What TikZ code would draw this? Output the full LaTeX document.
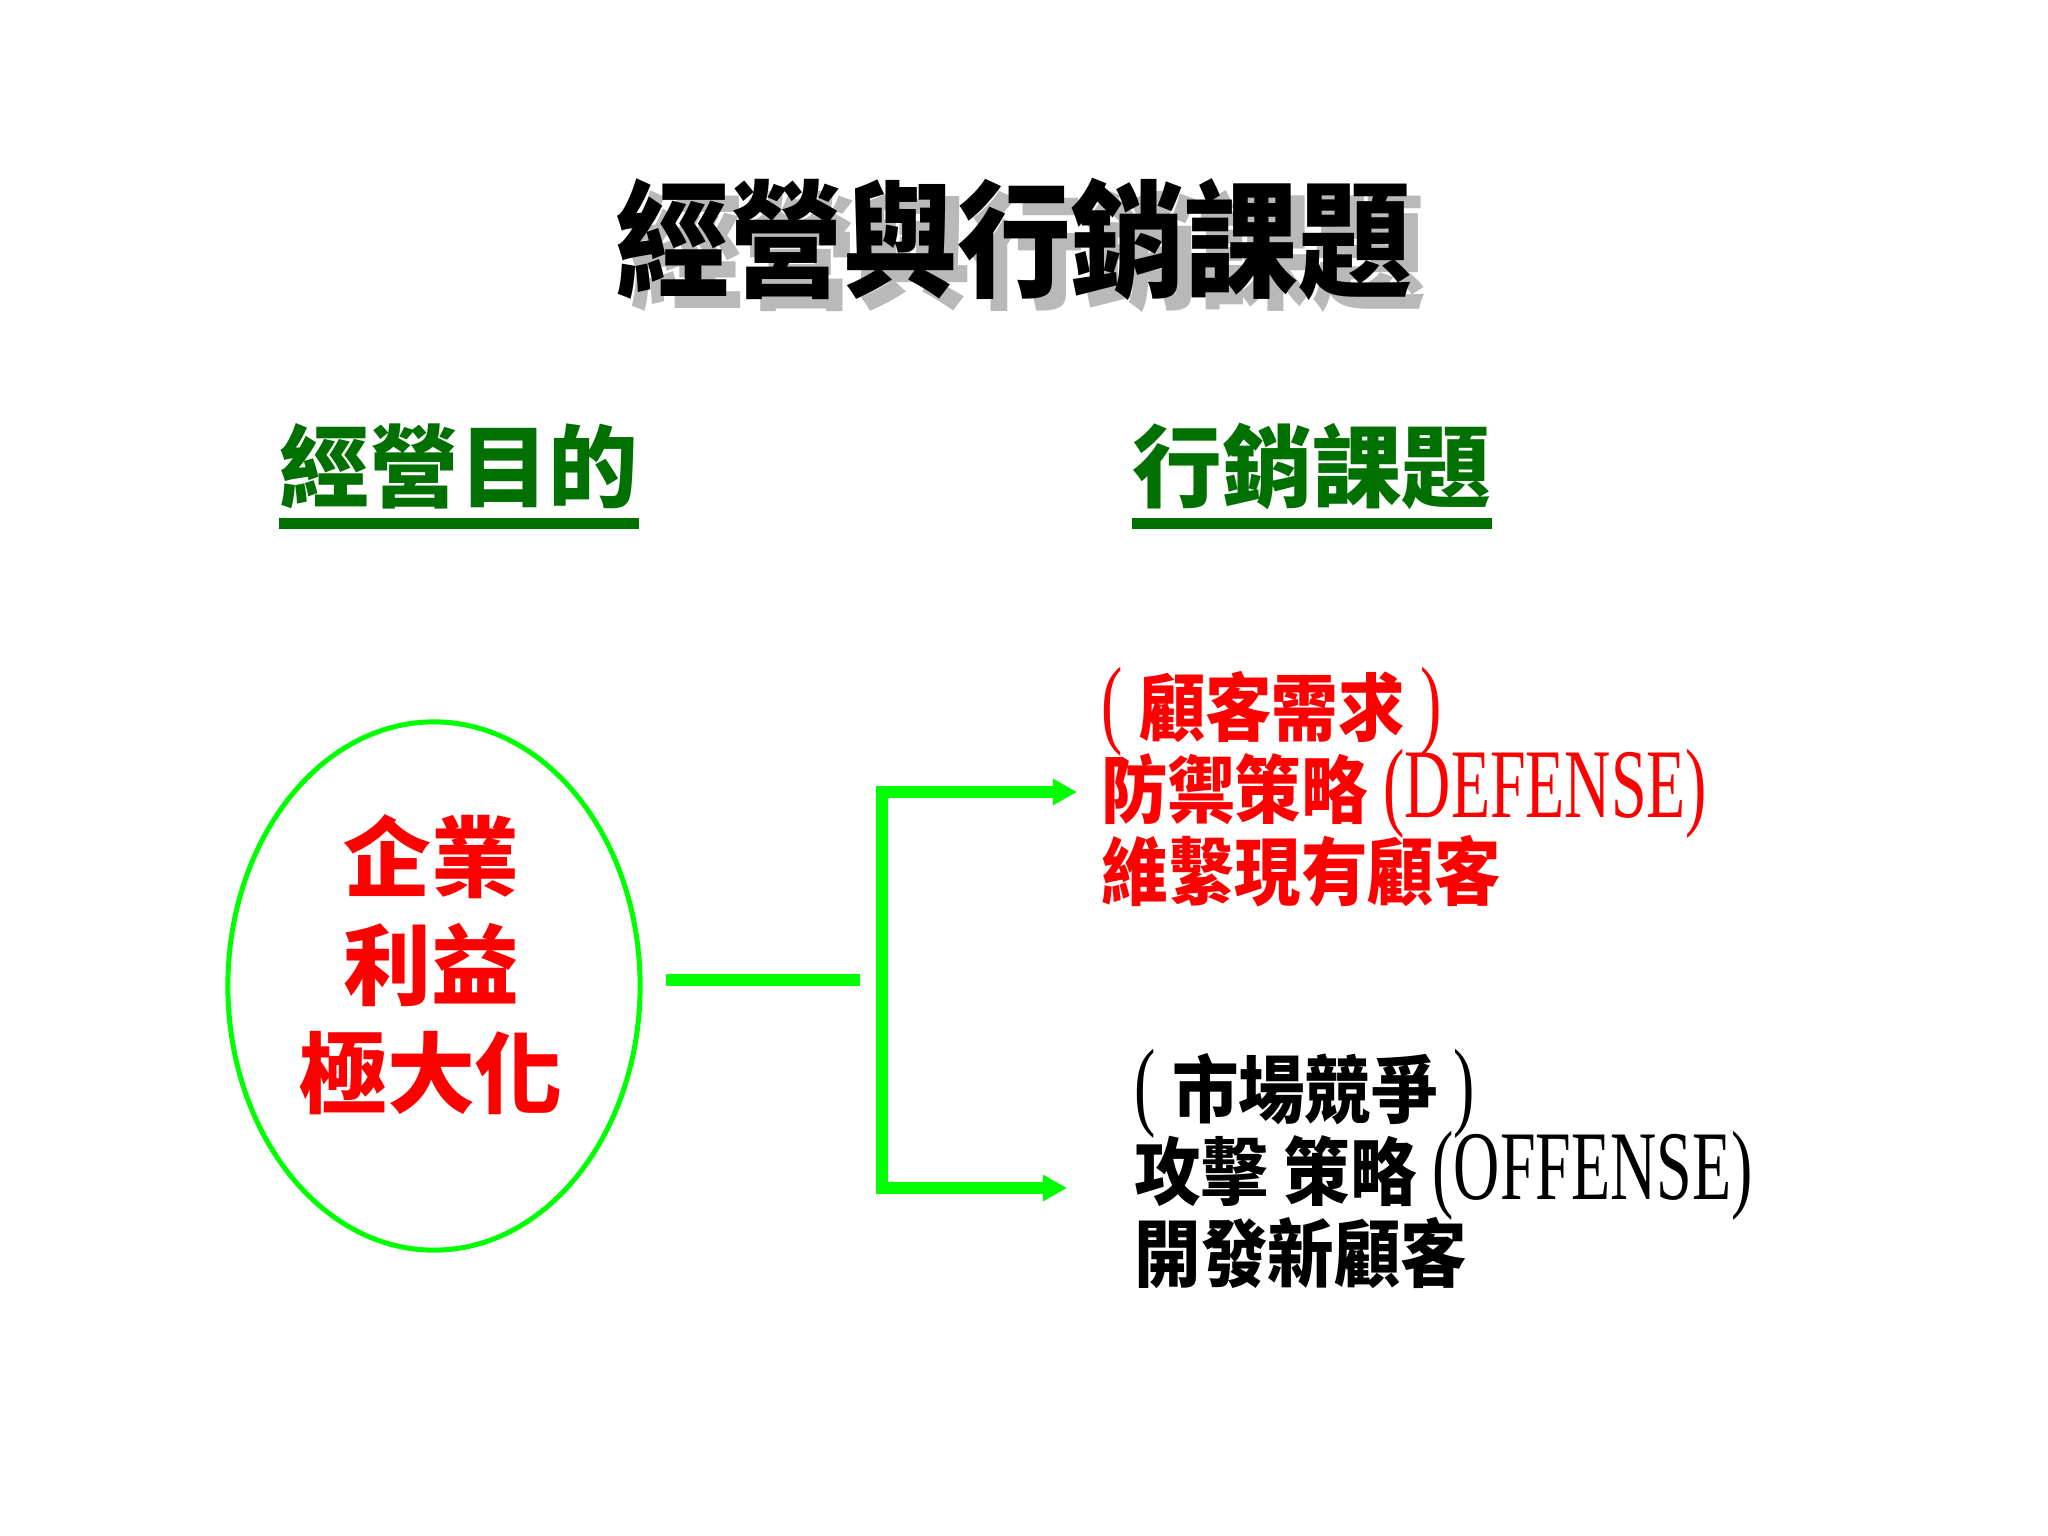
\documentclass[tikz,border=0pt]{standalone}
\usepackage{fontspec}
\setmainfont{Liberation Serif}[FakeStretch=0.65]
\newfontfamily\cjk{Noto Sans CJK TC}
\newfontfamily\cjkn{Noto Sans CJK TC}[FakeStretch=0.9]
\usetikzlibrary{shapes.geometric, arrows.meta, positioning}
\definecolor{headgreen}{RGB}{0,112,0}
\definecolor{lime}{RGB}{0,255,0}
\definecolor{shadowgray}{RGB}{185,185,185}
\newcommand{\zh}[1]{{\cjkn\bfseries\fontsize{21}{23.3}\selectfont #1}}
\lineskiplimit=-1cm

\begin{document}
\begin{tikzpicture}[x = 0.01cm, y = -0.01cm, inner sep = 0pt, > = {Triangle[length = 0.24cm, width = 0.25cm]},
    heading/.style = {text = headgreen, font = \cjk\bfseries\fontsize{25.5}{30}\selectfont},
    item/.style = {anchor = west, align = left, font = \fontsize{28}{23.3}\selectfont},
    link/.style = {draw = lime, line width = 0.127cm, line join = miter}]
    \fill[white] (0,0) rectangle (2048,1536);
    \useasboundingbox (0,0) rectangle (2048,1536);
    \node[text = shadowgray, font = \cjkn\bfseries\fontsize{36}{40}\selectfont]	(titleshadow)	at (1028, 251)	{經營與行銷課題};
    \node[font = \cjkn\bfseries\fontsize{36}{40}\selectfont]						(title)			at (1014, 239)	{經營與行銷課題};
    \node[heading]				(purpose)		at (459, 466)		{經營目的};
    \node[heading]				(marketing)		at (1312, 466)		{行銷課題};
    \coordinate					(ruleline)		at (0, 523);
    \draw[headgreen, line width = 0.11cm]	(purpose.west |- ruleline)		-- (purpose.east |- ruleline);
    \draw[headgreen, line width = 0.11cm]	(marketing.west |- ruleline)	-- (marketing.east |- ruleline);
    \node[ellipse, draw = lime, line width = 0.05cm, minimum width = 4.12cm, minimum height = 5.28cm]	(goal)	at (434, 986)	{};
    \node[text = red, align = center, font = \cjk\bfseries\fontsize{25}{30.7}\selectfont]		(goaltext)	at (431, 965)	{企業\\利益\\極大化};
    \node[item, text = red]		(defense)		at (1101, 787)		{( \zh{顧客需求} )\\\zh{防禦策略} (DEFENSE)\\\zh{維繫現有顧客}};
    \node[item]					(offense)		at (1134, 1169)		{( \zh{市場競爭} )\\\zh{攻擊} \zh{策略} (OFFENSE)\\\zh{開發新顧客}};
    \coordinate					(stubstart)		at (666, 980);
    \coordinate					(stubend)		at (860, 980);
    \coordinate					(forktop)		at (882, 792);
    \coordinate					(forkbot)		at (882, 1188);
    \coordinate					(deftip)		at (1077, 792);
    \coordinate					(offtip)		at (1067, 1188);
    \draw[link]			(stubstart)	-- (stubend);
    \draw[link, <->]	(deftip)	-- (forktop) -- (forkbot) -- (offtip);
\end{tikzpicture}
\end{document}
